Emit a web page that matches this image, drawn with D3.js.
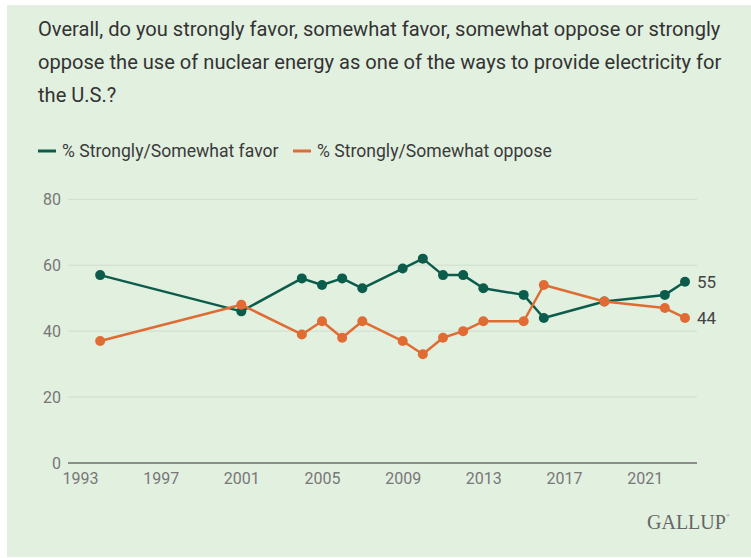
<!DOCTYPE html>
<html>
<head>
<meta charset="utf-8">
<script src="https://cdn.jsdelivr.net/npm/d3@7/dist/d3.min.js"></script>
<style>
  html, body { margin: 0; padding: 0; background: #ffffff; }
  svg { display: block; font-family: Roboto, "Liberation Sans", sans-serif; }
</style>
</head>
<body>
<svg id="chart" width="751" height="558"></svg>
<script>
// Survey years and the two response series (percent)
const years = [1994, 2001, 2004, 2005, 2006, 2007, 2009, 2010, 2011, 2012, 2013, 2015, 2016, 2019, 2022, 2023];
const favor = [57, 46, 56, 54, 56, 53, 59, 62, 57, 57, 53, 51, 44, 49, 51, 55];
const oppose = [37, 48, 39, 43, 38, 43, 37, 33, 38, 40, 43, 43, 54, 49, 47, 44];

const xTicks = [1993, 1997, 2001, 2005, 2009, 2013, 2017, 2021];
const yTicks = [0, 20, 40, 60, 80];

const titleLines = [
  "Overall, do you strongly favor, somewhat favor, somewhat oppose or strongly",
  "oppose the use of nuclear energy as one of the ways to provide electricity for",
  "the U.S.?"
];
const seriesNames = ["% Strongly/Somewhat favor", "% Strongly/Somewhat oppose"];
const seriesColors = ["#0c5c4c", "#e06c34"];

const svg = d3.select("#chart");

// Panel background
svg.append("rect")
  .attr("x", 7).attr("y", 5)
  .attr("width", 744).attr("height", 552)
  .attr("fill", "#e2f0e0");

// Title
svg.append("g").selectAll("text")
  .data(titleLines)
  .join("text")
  .attr("x", 38)
  .attr("y", (d, i) => 36 + i * 33)
  .attr("font-size", 20.1)
  .attr("fill", "#333333")
  .text(d => d);

// Legend
const legend = svg.append("g").attr("transform", "translate(38,151)");
const legendX = [0, 255];
seriesNames.forEach((name, i) => {
  const g = legend.append("g").attr("transform", `translate(${legendX[i]},0)`);
  g.append("line")
    .attr("x1", 0).attr("x2", 18)
    .attr("stroke", seriesColors[i])
    .attr("stroke-width", 3);
  g.append("text")
    .attr("x", 24).attr("y", 6)
    .attr("font-size", 17.6)
    .attr("fill", "#3a3a3a")
    .text(name);
});

// Scales
const x = d3.scaleLinear().domain([1993, 2023]).range([80, 685]);
const y = d3.scaleLinear().domain([0, 80]).range([463, 199.3]);
const plotLeft = 68, plotRight = 697;

// Gridlines
svg.append("g").selectAll("line")
  .data(yTicks.filter(t => t > 0))
  .join("line")
  .attr("x1", plotLeft).attr("x2", plotRight)
  .attr("y1", d => y(d)).attr("y2", d => y(d))
  .attr("stroke", "#cfdccd")
  .attr("stroke-width", 1);

// Y axis labels
const yAxis = svg.append("g")
  .attr("transform", `translate(${plotLeft},0)`)
  .call(d3.axisLeft(y).tickValues(yTicks).tickSize(0).tickPadding(7));
yAxis.attr("font-family", null);
yAxis.select(".domain").remove();
yAxis.selectAll("text")
  .attr("font-size", 16)
  .attr("fill", "#777777");

// X axis
const xAxis = svg.append("g")
  .attr("transform", `translate(0,${y(0)})`)
  .call(d3.axisBottom(x).tickValues(xTicks).tickFormat(d3.format("d")).tickSize(0).tickPadding(10));
xAxis.attr("font-family", null);
xAxis.select(".domain").remove();
xAxis.selectAll("text")
  .attr("font-size", 16)
  .attr("fill", "#777777");
svg.append("line")
  .attr("x1", plotLeft).attr("x2", plotRight)
  .attr("y1", y(0)).attr("y2", y(0))
  .attr("stroke", "#6e6e6e")
  .attr("stroke-width", 1.6);

// Series lines and points
const line = d3.line().x(d => x(d[0])).y(d => y(d[1]));
[favor, oppose].forEach((vals, i) => {
  const pts = years.map((yr, j) => [yr, vals[j]]);
  const g = svg.append("g");
  g.append("path")
    .datum(pts)
    .attr("d", line)
    .attr("fill", "none")
    .attr("stroke", seriesColors[i])
    .attr("stroke-width", 2.5)
    .attr("stroke-linejoin", "round");
  g.selectAll("circle")
    .data(pts)
    .join("circle")
    .attr("cx", d => x(d[0]))
    .attr("cy", d => y(d[1]))
    .attr("r", 5)
    .attr("fill", seriesColors[i]);
  // End value label
  const last = pts[pts.length - 1];
  g.append("text")
    .attr("x", x(last[0]) + 12)
    .attr("y", y(last[1]))
    .attr("dy", "0.36em")
    .attr("font-size", 17)
    .attr("fill", "#444444")
    .text(last[1]);
});

// Brand mark
const brand = svg.append("text")
  .attr("x", 647).attr("y", 529)
  .style("font-family", "'Liberation Serif', 'DejaVu Serif', serif")
  .attr("font-size", 20)
  .attr("fill", "#666666")
  .text("GALLUP");
brand.append("tspan")
  .attr("font-size", 5)
  .attr("dy", -12)
  .text("®");
</script>
</body>
</html>
